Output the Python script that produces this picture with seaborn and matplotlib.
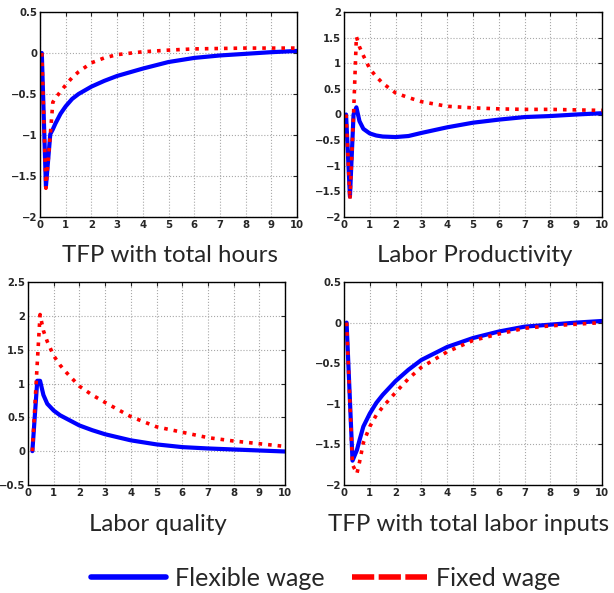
import numpy as np
import matplotlib
matplotlib.use("Agg")
import matplotlib.pyplot as plt
from matplotlib.lines import Line2D
import pandas as pd
import seaborn as sns

# TFP with total hours
x_hours = [0.07, 0.23, 0.4, 0.5, 0.6, 0.8, 1.0, 1.25, 1.5, 2, 2.5, 3, 4, 5, 6, 7, 8, 9, 10]
flex_hours = [0, -1.63, -0.99, -0.93, -0.86, -0.74, -0.65, -0.56, -0.50, -0.41, -0.34, -0.28, -0.19, -0.11, -0.06, -0.03, -0.01, 0.01, 0.025]
fixed_hours = [0, -1.65, -1.0, -0.6, -0.55, -0.47, -0.39, -0.30, -0.23, -0.12, -0.06, -0.02, 0.015, 0.035, 0.05, 0.055, 0.06, 0.06, 0.06]

# Labor productivity
x_prod = [0.08, 0.23, 0.37, 0.48, 0.6, 0.75, 1.0, 1.25, 1.5, 2, 2.5, 3, 4, 5, 6, 7, 8, 9, 10]
flex_prod = [0, -1.6, 0.0, 0.14, -0.13, -0.28, -0.37, -0.41, -0.43, -0.44, -0.42, -0.36, -0.25, -0.16, -0.10, -0.05, -0.03, 0.0, 0.025]
fixed_prod = [0, -1.66, 0.0, 1.52, 1.32, 1.15, 0.89, 0.74, 0.61, 0.42, 0.33, 0.25, 0.16, 0.13, 0.11, 0.10, 0.10, 0.09, 0.08]

# Labor quality
x_qual = [0.17, 0.36, 0.47, 0.6, 0.75, 1.0, 1.25, 1.5, 2, 2.5, 3, 4, 5, 6, 7, 8, 9, 10]
flex_qual = [0, 1.04, 1.04, 0.83, 0.70, 0.60, 0.53, 0.48, 0.38, 0.31, 0.25, 0.16, 0.10, 0.06, 0.04, 0.025, 0.01, -0.005]
fixed_qual = [0, 1.3, 2.02, 1.78, 1.62, 1.41, 1.27, 1.16, 0.96, 0.83, 0.72, 0.51, 0.36, 0.28, 0.20, 0.15, 0.11, 0.07]

# TFP with total labor inputs
x_inputs = [0.1, 0.33, 0.5, 0.6, 0.75, 1.0, 1.25, 1.5, 2, 2.5, 3, 4, 5, 6, 7, 8, 9, 10]
flex_inputs = [0, -1.7, -1.57, -1.45, -1.28, -1.12, -0.99, -0.89, -0.72, -0.58, -0.46, -0.30, -0.19, -0.11, -0.05, -0.025, 0.0, 0.02]
fixed_inputs = [0, -1.75, -1.86, -1.72, -1.48, -1.28, -1.14, -1.04, -0.86, -0.69, -0.55, -0.36, -0.22, -0.14, -0.07, -0.04, -0.02, 0.0]

titles = ["TFP with total hours", "Labor Productivity", "Labor quality", "TFP with total labor inputs"]
ylims = [(-2, 0.5), (-2, 2), (-0.5, 2.5), (-2, 0.5)]

sns.set_style("white")
plt.rcParams['font.family'] = ['DejaVu Sans']

W, H = 614, 593
fig = plt.figure(figsize=(W / 100, H / 100), dpi=100)

# axes boxes in pixels: left, top, right, bottom
boxes = [(40, 12, 297, 217), (344, 12, 602, 217), (28, 282, 285, 485), (344, 282, 602, 485)]
title_pos = [(170, 262), (475, 262), (158, 531), (469, 531)]

panels = [(x_hours, flex_hours, fixed_hours), (x_prod, flex_prod, fixed_prod),
          (x_qual, flex_qual, fixed_qual), (x_inputs, flex_inputs, fixed_inputs)]

for i, (xs, fl, fx) in enumerate(panels):
    l, t, r, b = boxes[i]
    ax = fig.add_axes([l / W, 1 - b / H, (r - l) / W, (b - t) / H])
    df = pd.DataFrame({"t": xs, "flex": fl, "fixed": fx})
    sns.lineplot(data=df, x="t", y="flex", ax=ax, color="#0000ff", lw=3.0, sort=False)
    sns.lineplot(data=df, x="t", y="fixed", ax=ax, color="#ff0000", lw=2.6, ls=":", sort=False)
    ax.set_xlim(0, 10)
    ax.set_ylim(*ylims[i])
    ax.set_xticks(range(0, 11))
    ax.set_yticks(np.arange(ylims[i][0], ylims[i][1] + 0.01, 0.5))
    ax.yaxis.set_major_formatter(matplotlib.ticker.FuncFormatter(lambda v, p: f"{v:g}".replace("-", "\u2212")))
    ax.set_xlabel("")
    ax.set_ylabel("")
    ax.grid(True, color="#a8a8a8", ls=":", lw=0.8)
    ax.tick_params(direction="in", length=3, width=0.8, top=True, right=True, labelsize=7.3, pad=2)
    for lab in ax.get_xticklabels() + ax.get_yticklabels():
        lab.set_fontweight("bold")
    for s in ax.spines.values():
        s.set_color("black")
        s.set_linewidth(1.0)
    tx, ty = title_pos[i]
    fig.text(tx / W, 1 - ty / H, titles[i], ha="center", va="baseline", fontsize=17.3, family="Lato")

handles = [Line2D([], [], color="#0000ff", lw=4),
           Line2D([], [], color="#ff0000", lw=4, ls=(0, (4, 0.8)))]
fig.legend(handles, ["Flexible wage", "Fixed wage"], loc="center", bbox_to_anchor=(0.53, 1 - 578 / H),
           ncol=2, frameon=False, prop={"family": "Lato", "size": 18},
           handlelength=3.0, handletextpad=0.36, columnspacing=1.1)

plt.savefig("out.png", dpi=100)
